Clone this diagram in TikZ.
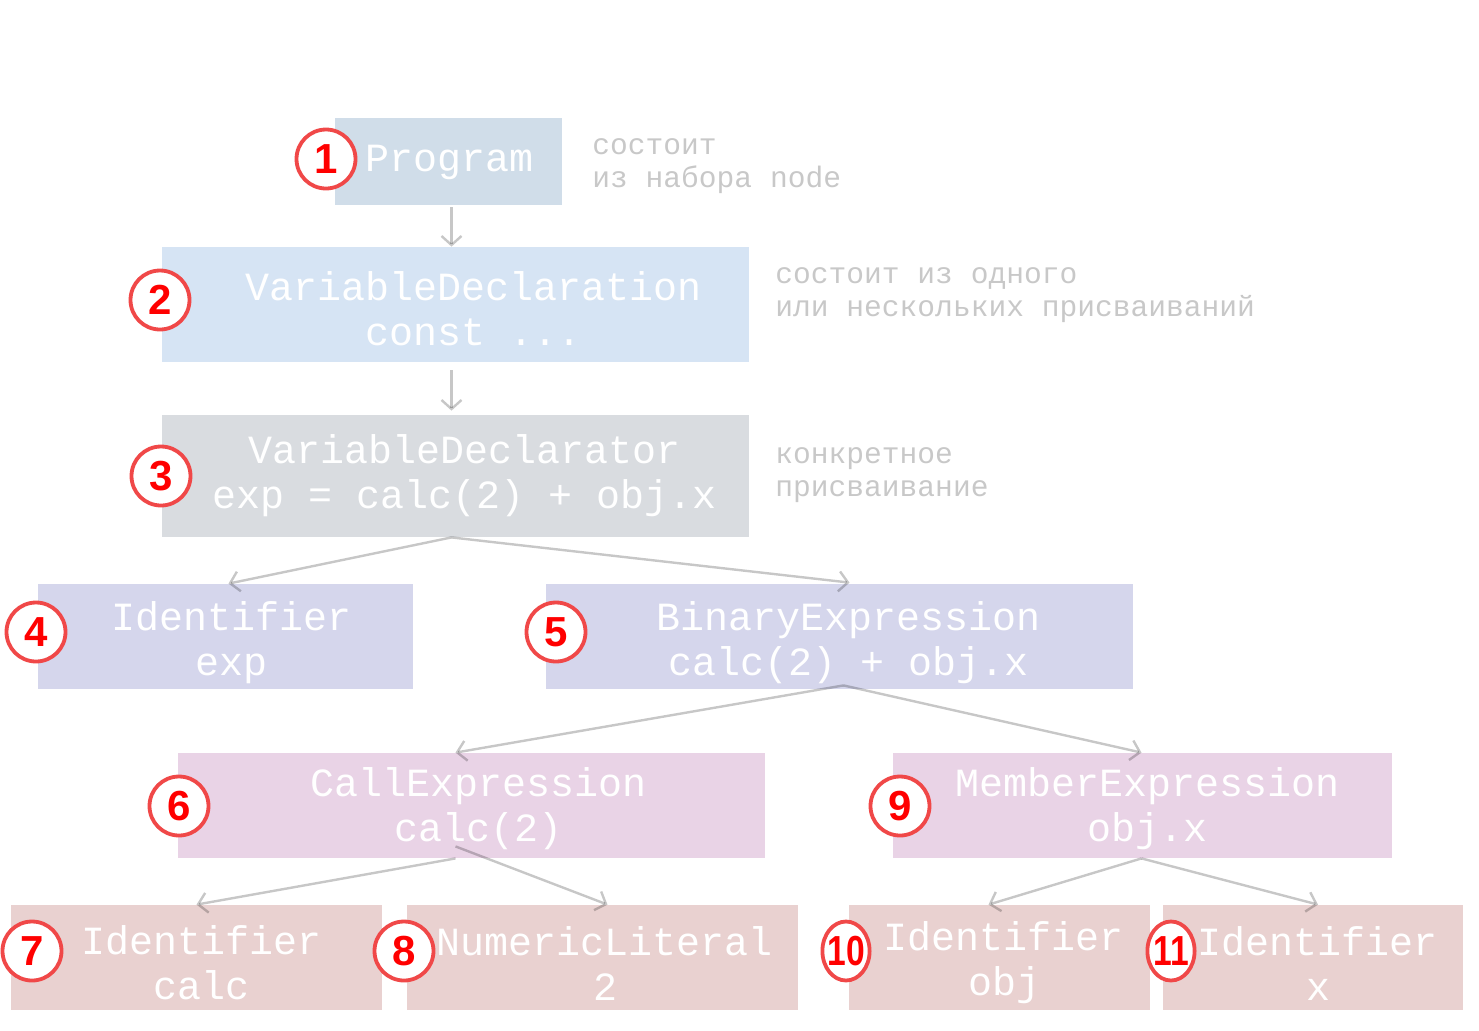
\documentclass[tikz,border=0pt]{standalone}
\usepackage{fontspec}
\setmonofont{Liberation Mono}
\newfontfamily\numfont{Liberation Sans}
\usetikzlibrary{arrows.meta,calc,fit}
\definecolor{progfill}{RGB}{208,221,233}
\definecolor{declfill}{RGB}{214,228,244}
\definecolor{dtorfill}{RGB}{217,220,224}
\definecolor{exprfill}{RGB}{213,214,236}
\definecolor{callfill}{RGB}{233,211,230}
\definecolor{leaffill}{RGB}{233,209,208}
\definecolor{notegray}{RGB}{200,200,200}
\definecolor{ringred}{RGB}{240,72,72}
\tikzset{
  box/.style={rectangle,inner sep=0pt,draw=none},
  lbl/.style={text=white,align=center,inner sep=0pt,
    font=\ttfamily\fontsize{20}{22.5}\selectfont},
  note/.style={text=notegray,align=left,anchor=west,inner sep=0pt,
    font=\ttfamily\fontsize{14.8}{16.8}\selectfont},
  num/.style={circle,draw=ringred,line width=1.9pt,fill=white,
    minimum size=29.5pt,inner sep=0pt,text=red,
    font=\numfont\bfseries\fontsize{21}{21}\selectfont},
  narrow/.style={transform shape,xscale=0.8},
  edge/.style={draw=black,opacity=0.22,line width=1.2pt,
    -{Straight Barb[length=4.5pt,width=10pt,line width=1.2pt]}}
}
\begin{document}
\begin{tikzpicture}[x=0.5pt,y=-0.5pt]
\useasboundingbox (0,0) rectangle (1479,1030);
\node[box,fill=progfill,fit={(335,118)(562,205)}] (prog) {};
\node[box,fill=declfill,fit={(162,247)(749,362)}] (decl) {};
\node[box,fill=dtorfill,fit={(162,415)(749,537)}] (dtor) {};
\node[box,fill=exprfill,fit={(38,584)(413,689)}] (ident) {};
\node[box,fill=exprfill,fit={(546,584)(1133,689)}] (binexp) {};
\node[box,fill=callfill,fit={(178,753)(765,858)}] (callexp) {};
\node[box,fill=callfill,fit={(893,753)(1392,858)}] (memexp) {};
\node[box,fill=leaffill,fit={(11,905)(382,1010)}] (idcalc) {};
\node[box,fill=leaffill,fit={(407,905)(798,1010)}] (numlit) {};
\node[box,fill=leaffill,fit={(849,905)(1150,1010)}] (idobj) {};
\node[box,fill=leaffill,fit={(1163,905)(1463,1010)}] (idx) {};
\node[lbl] (prog-t) at (450,162) {Program};
\node[lbl] (decl-t) at (474,309) {VariableDeclaration\\const ...};
\node[lbl] (dtor-t) at (465,476) {VariableDeclarator\\exp = calc(2) + obj.x};
\node[lbl] (ident-t) at (232,643) {Identifier\\exp};
\node[lbl] (binexp-t) at (849,643) {BinaryExpression\\calc(2) + obj.x};
\node[lbl] (callexp-t) at (479,809) {CallExpression\\calc(2)};
\node[lbl] (memexp-t) at (1148,809) {MemberExpression\\obj.x};
\node[lbl] (idcalc-t) at (202,963) {Identifier\\calc};
\node[lbl] (numlit-t) at (605,963) {NumericLiteral\\2};
\node[lbl] (idobj-t) at (1004,963) {Identifier\\obj};
\node[lbl] (idx-t) at (1318,963) {Identifier\\x};
\node[note] (prog-n) at (592,166) {состоит\\из набора node};
\node[note] (decl-n) at (775,295) {состоит из одного\\или нескольких присваиваний};
\node[note] (dtor-n) at (775,475) {конкретное\\присваивание};
\draw[edge] ($(prog.south)+(3,2)$) -- ($(prog.south |- decl.north)+(3,0)$);
\draw[edge] ($(decl.south)+(-4,8)$) -- ($(dtor.north)+(-4,-4)$);
\draw[edge] ($(dtor.south)+(-4,0)$) -- ($(ident.north)+(3,0)$);
\draw[edge] ($(dtor.south)+(-4,0)$) -- ($(binexp.north)+(10,-1)$);
\draw[edge] ($(binexp.south)+(4,-4)$) -- ($(callexp.north)+(-16,0)$);
\draw[edge] ($(binexp.south)+(4,-4)$) -- ($(memexp.north)+(-1,0)$);
\draw[edge] ($(callexp.south)+(-16,0)$) -- (idcalc.north);
\draw[edge] ($(callexp.south)+(-16,-12)$) -- ($(numlit.north)+(5,0)$);
\draw[edge] ($(memexp.south)+(-1,0)$) -- ($(idobj.north)+(-11,0)$);
\draw[edge] ($(memexp.south)+(-1,0)$) -- ($(idx.north)+(5,0)$);
\node[num] (n1) at (326,159) {1};
\node[num] (n2) at (160,300) {2};
\node[num] (n3) at (161,476) {3};
\node[num] (n4) at (36,632) {4};
\node[num] (n5) at (556,632) {5};
\node[num] (n6) at (179,806) {6};
\node[num] (n7) at (32,951) {7};
\node[num] (n8) at (404,951) {8};
\node[num] (n9) at (900,806) {9};
\node[num,narrow] (n10) at (846,951) {10};
\node[num,narrow] (n11) at (1171,951) {11};
\end{tikzpicture}
\end{document}
